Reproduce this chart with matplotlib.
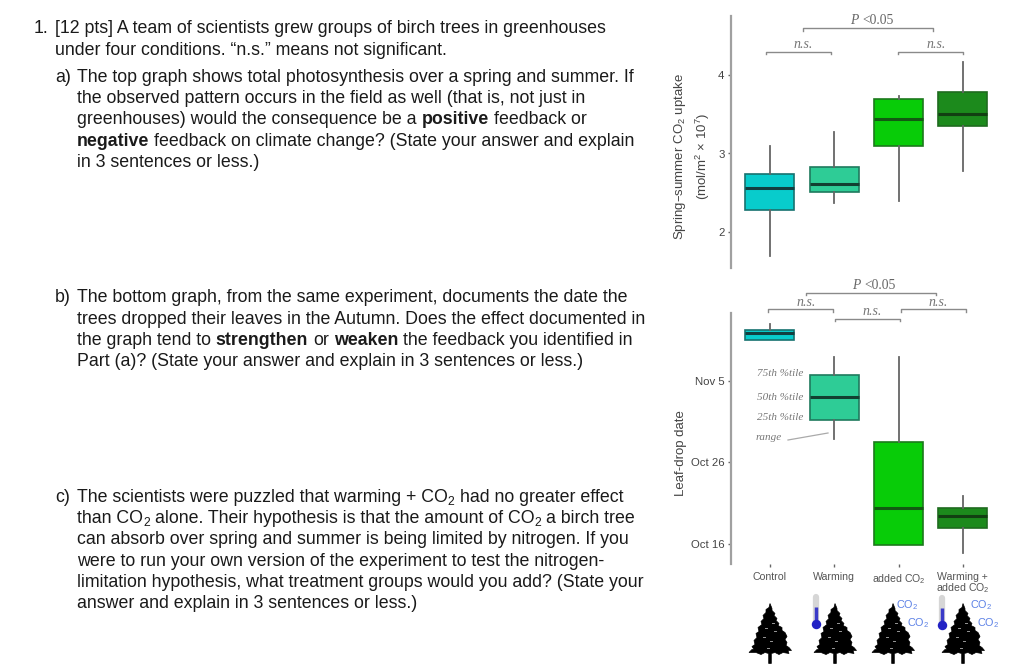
import matplotlib
matplotlib.use('Agg')
import matplotlib.pyplot as plt
from matplotlib.font_manager import FontProperties

plt.rcParams['font.family'] = ['Liberation Sans', 'DejaVu Sans']
plt.rcParams['mathtext.default'] = 'regular'

treatments = ['Control', 'Warming', 'added CO$_2$', 'Warming +\nadded CO$_2$']
box_colors = ['#08cccc', '#2ecc96', '#08cc08', '#1c8a1c']
edge_colors = ['#17726f', '#1f7a5e', '#1c7a1c', '#1f6b1f']
median_colors = ['#123f40', '#123f30', '#125a12', '#123f12']

# spring-summer CO2 uptake, mol/m2 x 10^7
uptake_low = [1.69, 2.37, 2.40, 2.78]
uptake_q1 = [2.28, 2.51, 3.09, 3.35]
uptake_med = [2.56, 2.61, 3.44, 3.50]
uptake_q3 = [2.74, 2.83, 3.69, 3.78]
uptake_high = [3.09, 3.28, 3.73, 4.17]
uptake_ticks = [2, 3, 4]

# leaf drop, days after Oct 16
drop_low = [24.95, 12.9, -0.1, -1.1]
drop_q1 = [24.95, 15.2, -0.1, 1.9]
drop_med = [25.9, 18.0, 4.45, 3.4]
drop_q3 = [26.2, 20.7, 12.45, 4.45]
drop_high = [26.9, 22.9, 22.9, 5.9]
drop_ticks = [0, 10, 20]
drop_tick_labels = ['Oct 16', 'Oct 26', 'Nov 5']

question_lines = [
    (34, 33, [('1.', 'r')]),
    (55, 33, [('[12 pts] A team of scientists grew groups of birch trees in greenhouses', 'r')]),
    (55, 55, [('under four conditions. “n.s.” means not significant.', 'r')]),
    (55, 81.5, [('a)', 'r')]),
    (77, 81.5, [('The top graph shows total photosynthesis over a spring and summer. If', 'r')]),
    (77, 103, [('the observed pattern occurs in the field as well (that is, not just in', 'r')]),
    (77, 124.5, [('greenhouses) would the consequence be a ', 'r'), ('positive', 'b'), (' feedback or', 'r')]),
    (77, 146, [('negative', 'b'), (' feedback on climate change? (State your answer and explain', 'r')]),
    (77, 167, [('in 3 sentences or less.)', 'r')]),
    (55, 302, [('b)', 'r')]),
    (77, 302, [('The bottom graph, from the same experiment, documents the date the', 'r')]),
    (77, 323.5, [('trees dropped their leaves in the Autumn. Does the effect documented in', 'r')]),
    (77, 345, [('the graph tend to ', 'r'), ('strengthen', 'b'), (' or ', 'r'), ('weaken', 'b'), (' the feedback you identified in', 'r')]),
    (77, 366, [('Part (a)? (State your answer and explain in 3 sentences or less.)', 'r')]),
    (55, 501.5, [('c)', 'r')]),
    (77, 501.5, [('The scientists were puzzled that warming + CO', 'r'), ('2', 's'), (' had no greater effect', 'r')]),
    (77, 523, [('than CO', 'r'), ('2', 's'), (' alone. Their hypothesis is that the amount of CO', 'r'), ('2', 's'), (' a birch tree', 'r')]),
    (77, 544.5, [('can absorb over spring and summer is being limited by nitrogen. If you', 'r')]),
    (77, 566, [('were to run your own version of the experiment to test the nitrogen-', 'r')]),
    (77, 587, [('limitation hypothesis, what treatment groups would you add? (State your', 'r')]),
    (77, 608, [('answer and explain in 3 sentences or less.)', 'r')]),
]

# pixel layout of the figure
FIG_W, FIG_H = 1024, 669
BOX_X = [769.7, 834.1, 898.5, 962.9]
TEXT_SIZE = 12.8
GREY = '#8a8a8a'
ANNOT = '#777777'
tree_outline = [(0, 0), (2, 5), (2, 7), (5, 10), (4, 12), (7, 15), (6, 17), (9, 20), (8, 22), (12, 24),
                (12, 27), (15, 29), (17, 33), (15, 36), (17, 39), (16, 42), (19, 44), (21.5, 47), (18, 47),
                (19, 50), (13, 49), (9, 51), (5, 49), (1.3, 50), (1.3, 60), (-1.3, 60), (-1.3, 50), (-5, 49),
                (-9, 51), (-14, 49), (-21, 49), (-18, 46), (-16, 46), (-18, 43), (-15, 41), (-16, 37),
                (-13, 34), (-14, 30), (-11, 28), (-12, 24), (-8, 21), (-9, 18), (-6, 15), (-7, 12), (-4, 9),
                (-4, 6), (-1, 4)]
tree_specks = [(3, 19), (-4, 24), (5, 27), (-6, 33), (1, 37), (-2, 44)]


def pixel_axes(fig, left, right, top, bottom):
    return fig.add_axes([left / FIG_W, 1 - bottom / FIG_H, (right - left) / FIG_W, (bottom - top) / FIG_H])


def draw_boxes(ax, low, q1, med, q3, high):
    stats = []
    for i in range(4):
        stats.append({'whislo': low[i], 'q1': q1[i], 'med': med[i], 'q3': q3[i], 'whishi': high[i], 'fliers': []})
    parts = ax.bxp(stats, positions=[1, 2, 3, 4], widths=0.76, patch_artist=True, showcaps=False, showfliers=False,
                   whiskerprops={'color': '#666666', 'linewidth': 1.3},
                   boxprops={'linewidth': 1.2})
    for i, box in enumerate(parts['boxes']):
        box.set_facecolor(box_colors[i])
        box.set_edgecolor(edge_colors[i])
        parts['medians'][i].set_color(median_colors[i])
        parts['medians'][i].set_linewidth(2.2)
        parts['medians'][i].set_solid_capstyle('butt')


def style_axes(ax, xlim_px, y0, scale, top, bottom):
    ax.set_xlim(1 + (xlim_px[0] - BOX_X[0]) / 64.4, 1 + (xlim_px[1] - BOX_X[0]) / 64.4)
    ax.set_ylim(y0[0] - (bottom - y0[1]) / scale, y0[0] + (y0[1] - top) / scale)
    ax.patch.set_alpha(0)
    for side in ['top', 'right', 'bottom']:
        ax.spines[side].set_visible(False)
    ax.spines['left'].set_color('#a0a0a0')
    ax.spines['left'].set_linewidth(1.6)
    ax.tick_params(axis='y', length=2.5, width=1, color='#666666', labelcolor='#444444', labelsize=8.2, pad=2)


def text_width(renderer, s, prop):
    full = renderer.get_text_width_height_descent('|' + s + '|', prop, False)[0]
    bars = renderer.get_text_width_height_descent('||', prop, False)[0]
    return full - bars


def draw_runs(ax, renderer, x, y, runs, size=TEXT_SIZE, color='#1a1a1a', family='Liberation Sans'):
    for s, kind in runs:
        weight = 'bold' if kind == 'b' else 'normal'
        style = 'italic' if kind == 'i' else 'normal'
        this_size = size * 0.68 if kind == 's' else size
        this_y = y + size * 0.27 if kind == 's' else y
        prop = FontProperties(family=family, size=this_size, weight=weight, style=style)
        # a leading space would be counted twice, so step over it first
        body = s.lstrip(' ')
        x += text_width(renderer, s[:len(s) - len(body)], prop)
        ax.text(x, this_y, body.rstrip(' '), fontproperties=prop, color=color, ha='left', va='baseline')
        x += text_width(renderer, body, prop)


def bracket(ax, x0, x1, y):
    ax.plot([x0, x0, x1, x1], [y + 2.5, y, y, y + 2.5], color=GREY, linewidth=1)


def serif_label(ax, x, y, s, size=10):
    ax.text(x, y, s, family='Liberation Serif', style='italic', color=ANNOT, fontsize=size, ha='center', va='center')


def p_label(ax, renderer, cx, y):
    draw_runs(ax, renderer, cx - 21.5, y, [('P', 'i'), (' <0.05', 'r')], size=9.8, color='#666666', family='Liberation Serif')


def draw_tree(ax, cx, top):
    xs = [cx + p[0] for p in tree_outline]
    ys = [top + p[1] for p in tree_outline]
    ax.fill(xs, ys, color='black', linewidth=0.5)
    for dx, dy in tree_specks:
        ax.plot([cx + dx - 0.7, cx + dx + 0.7], [top + dy, top + dy], color='#999999', linewidth=0.7)


def draw_thermometer(ax, x, top, bulb_y):
    ax.plot([x, x], [top, bulb_y], color='#d6d6d6', linewidth=4.5, solid_capstyle='round')
    ax.plot([x, x], [top + 10, bulb_y], color='#3a3ac8', linewidth=2.5, solid_capstyle='butt')
    ax.plot([x], [bulb_y], marker='o', markersize=6.8, color='#2222c4', markeredgewidth=0)


def draw_co2(ax, x, y):
    ax.text(x, y, 'CO$_2$', fontsize=7.8, color='#5b80e6', ha='left', va='baseline')


def main():
    fig = plt.figure(figsize=(FIG_W / 100, FIG_H / 100), dpi=100)
    renderer = fig.canvas.get_renderer()

    # top panel
    ax_top = pixel_axes(fig, 730.7, 1000, 16, 268)
    draw_boxes(ax_top, uptake_low, uptake_q1, uptake_med, uptake_q3, uptake_high)
    style_axes(ax_top, (730.7, 1000), (2, 232), 78.5, 16, 268)
    ax_top.set_yticks(uptake_ticks)
    ax_top.set_xticks([])
    ax_top.set_ylabel('Spring–summer CO$_2$ uptake\n(mol/m$^2$ × 10$^7$)', fontsize=9.5, color='#444444', linespacing=1.45)
    ax_top.yaxis.set_label_coords(-18.2 / 269.3, 0.444)

    # bottom panel
    ax_bot = pixel_axes(fig, 730.7, 1000, 312.7, 564)
    draw_boxes(ax_bot, drop_low, drop_q1, drop_med, drop_q3, drop_high)
    style_axes(ax_bot, (730.7, 1000), (0, 544), 8.165, 312.7, 564)
    ax_bot.set_yticks(drop_ticks)
    ax_bot.set_yticklabels(drop_tick_labels)
    ax_bot.set_xticks([1, 2, 3, 4])
    ax_bot.set_xticklabels(treatments, fontsize=7.6, color='#555555', linespacing=0.85)
    ax_bot.tick_params(axis='x', length=2, width=1, color='#666666', pad=4)
    ax_bot.set_ylabel('Leaf-drop date', fontsize=9.5, color='#444444')
    ax_bot.yaxis.set_label_coords(-43.7 / 269.3, 0.44)

    # everything else is placed in pixels on a full-figure layer
    ov = fig.add_axes([0, 0, 1, 1])
    ov.set_xlim(0, FIG_W)
    ov.set_ylim(FIG_H, 0)
    ov.axis('off')

    for x, y, runs in question_lines:
        draw_runs(ov, renderer, x, y, runs)

    bracket(ov, 803, 933, 28)
    bracket(ov, 766, 831, 51.5)
    bracket(ov, 898, 963, 51.5)
    p_label(ov, renderer, 872, 24)
    serif_label(ov, 803, 44, 'n.s.')
    serif_label(ov, 936, 44, 'n.s.')

    bracket(ov, 806, 936, 292.7)
    bracket(ov, 768, 833, 309)
    bracket(ov, 835, 900, 318.7)
    bracket(ov, 900.7, 966, 309)
    p_label(ov, renderer, 874, 289)
    serif_label(ov, 806, 302, 'n.s.')
    serif_label(ov, 872, 311.5, 'n.s.')
    serif_label(ov, 938, 302, 'n.s.')

    serif_label(ov, 780.5, 374, '75th %tile', size=8)
    serif_label(ov, 780.5, 397, '50th %tile', size=8)
    serif_label(ov, 780.5, 418, '25th %tile', size=8)
    serif_label(ov, 769, 438, 'range', size=8)
    ov.plot([788, 828], [440, 433], color='#aaaaaa', linewidth=0.9)

    for cx in [770, 835, 893, 963]:
        draw_tree(ov, cx, 603.5)
    draw_thermometer(ov, 816, 597, 624)
    draw_thermometer(ov, 942, 598, 625)
    draw_co2(ov, 896, 608)
    draw_co2(ov, 907, 626)
    draw_co2(ov, 970, 608)
    draw_co2(ov, 977, 626)

    fig.savefig('out.png', dpi=100)


if __name__ == '__main__':
    main()
